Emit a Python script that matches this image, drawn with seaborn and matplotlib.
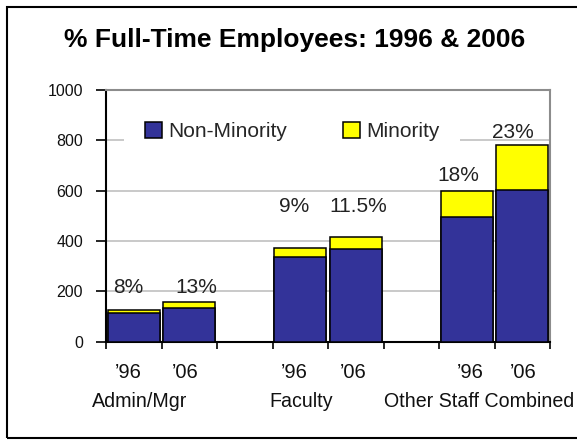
import pandas as pd
import matplotlib.pyplot as plt
import matplotlib.transforms as mtransforms
from matplotlib.patches import Patch, Rectangle
import seaborn as sns

# values
groups = ['Admin/Mgr', 'Faculty', 'Other Staff Combined']
years = ['\u201996', '\u201906']
non_minority = [116, 135, 338, 368, 494, 603]
minority = [10, 21, 33, 48, 106, 178]
pct_labels = ['8%', '13%', '9%', '11.5%', '18%', '23%']
yticks = [0, 200, 400, 600, 800, 1000]

# 8 slots: two years per group with an empty slot between groups
slots = ['A96', 'A06', 'F96', 'F06', 'O96', 'O06']
order = ['A96', 'A06', 'gap1', 'F96', 'F06', 'gap2', 'O96', 'O06']

df = pd.DataFrame({'slot': slots, 'non_minority': non_minority, 'minority': minority})
df['total'] = df['non_minority'] + df['minority']

blue = '#333399'
yellow = '#FFFF00'

sns.set_theme(style='white')
plt.rcParams['font.family'] = ['Liberation Sans', 'DejaVu Sans']

fig = plt.figure(figsize=(5.77, 4.40), dpi=100)
ax = fig.add_axes([106 / 577, 1 - 341.7 / 440, 444 / 577, 251.7 / 440])

sns.barplot(data=df, x='slot', y='total', order=order, color=yellow, saturation=1,
            edgecolor='black', linewidth=1.1, width=0.94, ax=ax, zorder=3)
sns.barplot(data=df, x='slot', y='non_minority', order=order, color=blue, saturation=1,
            edgecolor='black', linewidth=1.1, width=0.94, ax=ax, zorder=4)

ax.set_xlim(-0.5, len(order) - 0.5)
ax.set_ylim(0, 1000)
ax.set_xlabel('')
ax.set_ylabel('')

# y axis
ax.set_yticks(yticks)
ax.set_yticklabels([str(v) for v in yticks], fontsize=11.5, color='#111111')
ax.yaxis.grid(True, color='#C0C0C0', linewidth=1.2, zorder=0)
ax.set_axisbelow(True)
ax.tick_params(axis='y', direction='out', length=7, width=1.2, color='black', pad=9.5, left=True)

# x axis: tick marks at slot boundaries, labels as text
ax.set_xticks([i - 0.5 for i in range(len(order) + 1)])
ax.set_xticklabels([])
ax.tick_params(axis='x', direction='out', length=5, width=1.2, color='black', bottom=True)

for side in ['left', 'bottom']:
    ax.spines[side].set_color('black')
    ax.spines[side].set_linewidth(1.5)
for side in ['top', 'right']:
    ax.spines[side].set_color('#8C8C8C')
    ax.spines[side].set_linewidth(1.5)

trans = mtransforms.blended_transform_factory(ax.transData, ax.transAxes)
pos = [order.index(s) for s in slots]
year_dx = [-0.1, -0.07, -0.1, -0.05, 0.07, 0.02]
for i, p in enumerate(pos):
    ax.text(p + year_dx[i], (341.7 - 378.3) / 251.7, years[i % 2], transform=trans,
            ha='center', va='baseline', fontsize=14.5, color='#111111')

group_x = [0.11, 3.02, 6.23]
for gx, g in zip(group_x, groups):
    ax.text(gx, (341.7 - 407) / 251.7, g, transform=trans, ha='center', va='baseline',
            fontsize=14.1, color='#111111')

# percentage annotations
pct_dx = [-0.1, 0.12, -0.11, 0.05, -0.16, -0.17]
pct_y = [193, 193, 515, 515, 640, 808]
for i, p in enumerate(pos):
    ax.text(p + pct_dx[i], pct_y[i], pct_labels[i], ha='center', va='baseline',
            fontsize=15, color='#222222', zorder=6)

handles = [Patch(facecolor=blue, edgecolor='black', linewidth=1.1, label='Non-Minority'),
           Patch(facecolor=yellow, edgecolor='black', linewidth=1.1, label='Minority')]
leg = ax.legend(handles=handles, loc='center left', bbox_to_anchor=(124 / 577, 1 - 131.5 / 440),
                bbox_transform=fig.transFigure, ncol=2, frameon=True, fontsize=15,
                handlelength=0.82, handleheight=0.82, handletextpad=0.29, columnspacing=2.7,
                borderpad=1.0, borderaxespad=0, fancybox=False)
leg.get_frame().set_facecolor('white')
leg.get_frame().set_edgecolor('none')
leg.get_frame().set_alpha(1)
leg.set_zorder(5)

fig.text(295 / 577, 1 - 47 / 440, '% Full-Time Employees: 1996 & 2006', ha='center',
         va='baseline', fontsize=19, fontweight='bold', color='black')

# outer chart frame (right edge runs just past the image)
fig.patches.append(Rectangle((7 / 577, 1 - 438 / 440), 580 / 577, 431 / 440, transform=fig.transFigure,
                             fill=False, edgecolor='black', linewidth=1.5))

fig.savefig('out.png', dpi=100)
